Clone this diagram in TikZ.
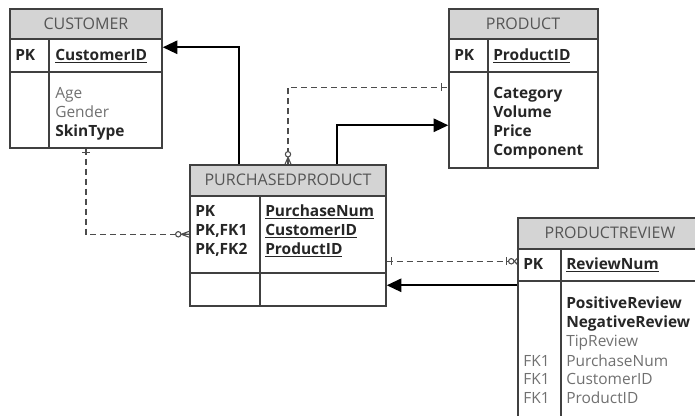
\documentclass[tikz,border=0pt]{standalone}
\usepackage{fontspec}
\setmainfont{Open Sans}
\usetikzlibrary{arrows.meta,calc,fit}

\definecolor{hdrgray}{HTML}{D4D4D4}
\definecolor{tblline}{HTML}{404040}
\definecolor{titletxt}{HTML}{555555}
\definecolor{softtxt}{HTML}{707070}

\tikzset{
  tbl/.style={draw=tblline, line width=1.1pt, inner sep=0pt},
  sep/.style={draw=tblline, line width=1.1pt},
  title/.style={text=titletxt, inner sep=0pt, font=\fontsize{12}{14}\selectfont},
  fld/.style={anchor=west, inner sep=0pt, text height=8pt, text depth=2pt, text=black!85},
  soft/.style={fld, text=softtxt},
  rel/.style={line width=1.5pt, -{Triangle[length=11pt,width=10pt]}},
  optrel/.style={line width=0.9pt, draw=black!70, dash pattern=on 4.5pt off 3pt},
  crow/.style={line width=0.8pt, draw=black!70}
}

\begin{document}
\begin{tikzpicture}[x=0.75pt, y=-0.75pt, font=\fontsize{11.6}{14}\selectfont]
\useasboundingbox (0,0) rectangle (695,415);
\clip (0,0) rectangle (695,415);

% CUSTOMER
\fill[hdrgray] (10,9) rectangle (162,39);
\node[tbl, fit={(10,9) (162,148)}] (cust) {};
\draw[sep] (10,39) -- (162,39);
\draw[sep] (10,72) -- (162,72);
\draw[sep] (49,39) -- (49,148);
\node[title] (cust-t) at (86,24) {CUSTOMER};
\node[fld] (cust-pk) at (15,56) {\bfseries PK};
\node[fld] (cust-id) at (55,56) {\bfseries\underline{CustomerID}};
\node[soft] (cust-age) at (55,94) {Age};
\node[soft] (cust-gen) at (55,113) {Gender};
\node[fld] (cust-skin) at (55,132) {\bfseries SkinType};

% PRODUCT
\fill[hdrgray] (449,9) rectangle (598,39);
\node[tbl, fit={(449,9) (598,168)}] (prod) {};
\draw[sep] (449,39) -- (598,39);
\draw[sep] (449,72) -- (598,72);
\draw[sep] (488,39) -- (488,168);
\node[title] (prod-t) at (523,24) {PRODUCT};
\node[fld] (prod-pk) at (454,56) {\bfseries PK};
\node[fld] (prod-id) at (493,56) {\bfseries\underline{ProductID}};
\node[fld] (prod-cat) at (493,94) {\bfseries Category};
\node[fld] (prod-vol) at (493,113) {\bfseries Volume};
\node[fld] (prod-pri) at (493,132) {\bfseries Price};
\node[fld] (prod-com) at (493,151) {\bfseries Component};

% PURCHASEDPRODUCT
\fill[hdrgray] (190,165) rectangle (386,196);
\node[tbl, fit={(190,165) (386,306)}] (pp) {};
\draw[sep] (190,196) -- (386,196);
\draw[sep] (190,273) -- (386,273);
\draw[sep] (260,196) -- (260,306);
\node[title] (pp-t) at (288,180) {PURCHASEDPRODUCT};
\node[fld] (pp-k1) at (195,212) {\bfseries PK};
\node[fld] (pp-k2) at (195,231) {\bfseries PK,FK1};
\node[fld] (pp-k3) at (195,250) {\bfseries PK,FK2};
\node[fld] (pp-num) at (265,212) {\bfseries\underline{PurchaseNum}};
\node[fld] (pp-cid) at (265,231) {\bfseries\underline{CustomerID}};
\node[fld] (pp-pid) at (265,250) {\bfseries\underline{ProductID}};

% PRODUCTREVIEW
\fill[hdrgray] (518,218) rectangle (702,249);
\node[tbl, fit={(518,218) (702,425)}] (rev) {};
\draw[sep] (518,249) -- (702,249);
\draw[sep] (518,281) -- (702,281);
\draw[sep] (561,249) -- (561,425);
\node[title] (rev-t) at (610,233) {PRODUCTREVIEW};
\node[fld] (rev-pk) at (523,265) {\bfseries PK};
\node[fld] (rev-num) at (566,265) {\bfseries\underline{ReviewNum}};
\node[fld] (rev-pos) at (566,304) {\bfseries PositiveReview};
\node[fld] (rev-neg) at (566,323) {\bfseries NegativeReview};
\node[soft] (rev-tip) at (566,342) {TipReview};
\node[soft] (rev-fk1) at (523,362) {FK1};
\node[soft] (rev-fk2) at (523,380) {FK1};
\node[soft] (rev-fk3) at (523,399) {FK1};
\node[soft] (rev-pn) at (566,362) {PurchaseNum};
\node[soft] (rev-cid) at (566,380) {CustomerID};
\node[soft] (rev-pid) at (566,399) {ProductID};

% connector ends
\coordinate (pp-w) at ($(pp.north west)+(0,70)$);
\coordinate (pp-e) at ($(pp.north east)+(0,97)$);
\coordinate (rev-w) at ($(rev.north west)+(0,44)$);
\coordinate (prod-w) at ($(prod.north west)+(0,79)$);

% relationships
\draw[optrel] (cust.south) |- (pp-w);
\draw[optrel] (pp.north) |- (prod-w);
\draw[optrel] (pp-e) -- (rev-w);
\draw[rel] ($(pp.north west)!.25!(pp.north east)$) |- ($(cust.north east)+(0,39)$);
\draw[rel] ($(pp.north west)!.75!(pp.north east)$) |- ($(prod.north west)+(0,117)$);
\draw[rel] ($(rev.north west)+(0,68)$) -- ($(pp.north east)+(0,121)$);

% cardinality marks
\draw[crow] ($(cust.south)+(-4,4)$) -- ++(8,0);
\draw[crow, fill=white] ($(pp-w)+(-11,0)$) circle[radius=2pt];
\draw[crow] ($(pp-w)+(-8,0)$) -- ($(pp-w)+(0,-3)$) ($(pp-w)+(-8,0)$) -- (pp-w) ($(pp-w)+(-8,0)$) -- ($(pp-w)+(0,3)$);
\draw[crow, fill=white] ($(pp.north)+(0,-10)$) circle[radius=2pt];
\draw[crow] ($(pp.north)+(0,-7)$) -- ($(pp.north)+(-3,0)$) ($(pp.north)+(0,-7)$) -- (pp.north) ($(pp.north)+(0,-7)$) -- ($(pp.north)+(3,0)$);
\draw[crow] ($(prod-w)+(-7,-4)$) -- ++(0,8);
\draw[crow] ($(pp-e)+(5,-4)$) -- ++(0,8);
\draw[crow] ($(rev-w)+(-11,-4)$) -- ++(0,8);
\draw[crow, fill=white] ($(rev-w)+(-6,0)$) circle[radius=2pt];
\draw[crow] ($(rev-w)+(-3,0)$) -- ($(rev-w)+(0,-3)$) ($(rev-w)+(-3,0)$) -- ($(rev-w)+(0,3)$);

\end{tikzpicture}
\end{document}
